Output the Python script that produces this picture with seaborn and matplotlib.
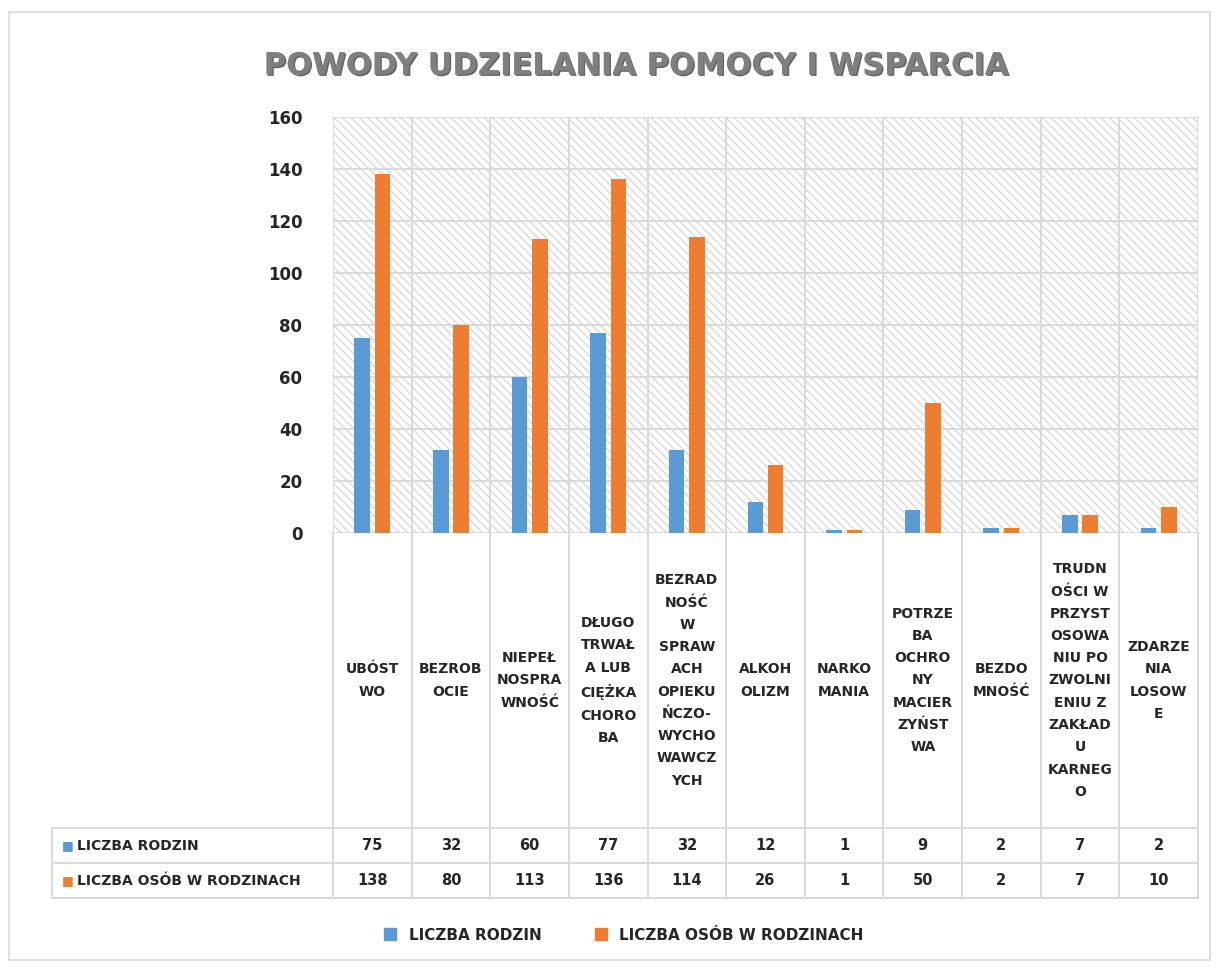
import numpy as np
import pandas as pd
import matplotlib
matplotlib.use("Agg")
import matplotlib.pyplot as plt
import matplotlib.patheffects as pe
import seaborn as sns
from matplotlib.patches import Rectangle

# data
categories = [
    "UBÓST\nWO",
    "BEZROB\nOCIE",
    "NIEPEŁ\nNOSPRA\nWNOŚĆ",
    "DŁUGO\nTRWAŁ\nA LUB\nCIĘŻKA\nCHORO\nBA",
    "BEZRAD\nNOŚĆ\nW\nSPRAW\nACH\nOPIEKU\nŃCZO-\nWYCHO\nWAWCZ\nYCH",
    "ALKOH\nOLIZM",
    "NARKO\nMANIA",
    "POTRZE\nBA\nOCHRO\nNY\nMACIER\nZYŃST\nWA",
    "BEZDO\nMNOŚĆ",
    "TRUDN\nOŚCI W\nPRZYST\nOSOWA\nNIU PO\nZWOLNI\nENIU Z\nZAKŁAD\nU\nKARNEG\nO",
    "ZDARZE\nNIA\nLOSOW\nE",
]
series_names = ["LICZBA RODZIN", "LICZBA OSÓB W RODZINACH"]
rodziny = [75, 32, 60, 77, 32, 12, 1, 9, 2, 7, 2]
osoby = [138, 80, 113, 136, 114, 26, 1, 50, 2, 7, 10]
y_ticks = [0, 20, 40, 60, 80, 100, 120, 140, 160]

colors = ["#5B9BD5", "#ED7D31"]
grid_c = "#d9d9d9"
text_c = "#262626"

df = pd.DataFrame({
    "kategoria": list(range(len(categories))) * 2,
    "seria": [series_names[0]] * len(rodziny) + [series_names[1]] * len(osoby),
    "wartosc": rodziny + osoby,
})

W, H = 1217, 967
fig = plt.figure(figsize=(W / 100, H / 100), dpi=100)
fig.patch.set_facecolor("white")

def fx(px):
    return px / W

def fy(py):
    return 1 - py / H

# outer chart border
fig.add_artist(Rectangle((fx(9), fy(960)), fx(1210) - fx(9), fy(12) - fy(960),
                         transform=fig.transFigure, fill=False, edgecolor=grid_c, lw=1.2))

plot_l, plot_r, plot_t, plot_b = 333, 1198, 117, 533
ax = fig.add_axes([fx(plot_l), fy(plot_b), fx(plot_r) - fx(plot_l), fy(plot_t) - fy(plot_b)])

sns.barplot(data=df, x="kategoria", y="wartosc", hue="seria", palette=colors,
            width=0.52, gap=0.24, ax=ax, legend=False, native_scale=True,
            saturation=1, zorder=3, err_kws={"linewidth": 0})

n = len(categories)
ax.set_xlim(-0.5, n - 0.5)
ax.set_ylim(0, 160)
ax.set_yticks(y_ticks)
ax.set_yticklabels([str(t) for t in y_ticks], fontsize=12, fontweight="bold", color=text_c)
ax.tick_params(axis="y", length=0, pad=22)
ax.set_xticks([])
ax.set_xlabel("")
ax.set_ylabel("")
for s in ax.spines.values():
    s.set_visible(False)

# hatched background
plt.rcParams["hatch.linewidth"] = 0.9
ax.add_patch(Rectangle((0, 0), 1, 1, transform=ax.transAxes, facecolor="white",
                       edgecolor="#d6d6d6", hatch="\\\\\\\\", lw=0, zorder=0))
for t in y_ticks:
    ax.axhline(t, color=grid_c, lw=1.4, zorder=1)
for b in np.arange(-0.5, n, 1.0):
    ax.axvline(b, color=grid_c, lw=1.4, zorder=1)

# data table beneath the plot
tab_l, tab_b = 52, 898
tax = fig.add_axes([fx(tab_l), fy(tab_b), fx(plot_r) - fx(tab_l), fy(plot_b) - fy(tab_b)])
unit = (plot_r - plot_l) / n
left_u = -0.5 - (plot_l - tab_l) / unit
tax.set_xlim(left_u, n - 0.5)
tax.set_ylim(tab_b, plot_b)
tax.axis("off")

row1, row2 = 828, 863
for b in np.arange(-0.5, n, 1.0):
    tax.plot([b, b], [tab_b, plot_b], color=grid_c, lw=1.4, clip_on=False)
tax.plot([left_u, left_u], [tab_b, row1], color=grid_c, lw=1.4, clip_on=False)
for yy in [row1, row2, tab_b]:
    tax.plot([left_u, n - 0.5], [yy, yy], color=grid_c, lw=1.4, clip_on=False)

for i, lab in enumerate(categories):
    tax.text(i, (plot_b + row1) / 2, lab, ha="center", va="center", fontsize=10,
             fontweight="bold", color=text_c, linespacing=1.75)
    tax.text(i, (row1 + row2) / 2, str(rodziny[i]), ha="center", va="center",
             fontsize=10.5, fontweight="bold", color=text_c)
    tax.text(i, (row2 + tab_b) / 2, str(osoby[i]), ha="center", va="center",
             fontsize=10.5, fontweight="bold", color=text_c)

for k, yy in enumerate([(row1 + row2) / 2, (row2 + tab_b) / 2]):
    tax.text(left_u + 0.12, yy, "\u25A0", ha="left", va="center", fontsize=9, color=colors[k])
    tax.text(left_u + 0.32, yy, series_names[k], ha="left", va="center",
             fontsize=10, fontweight="bold", color=text_c)

# legend
handles = [Rectangle((0, 0), 1, 1, color=c) for c in colors]
fig.legend(handles, series_names, loc="center", bbox_to_anchor=(fx(624), fy(935)),
           ncol=2, frameon=False, handlelength=0.8, handleheight=0.8, columnspacing=3.5,
           prop={"size": 11, "weight": "bold"}, labelcolor=text_c)

fig.text(fx(635), fy(66), "POWODY UDZIELANIA POMOCY I WSPARCIA", ha="center", va="center",
         fontsize=22, fontweight="bold", color="#7f7f7f",
         path_effects=[pe.withSimplePatchShadow(offset=(1, -1), shadow_rgbFace="#3a3a3a", alpha=0.8),
                       pe.Normal()])

fig.savefig("out.png", dpi=100, facecolor="white")
